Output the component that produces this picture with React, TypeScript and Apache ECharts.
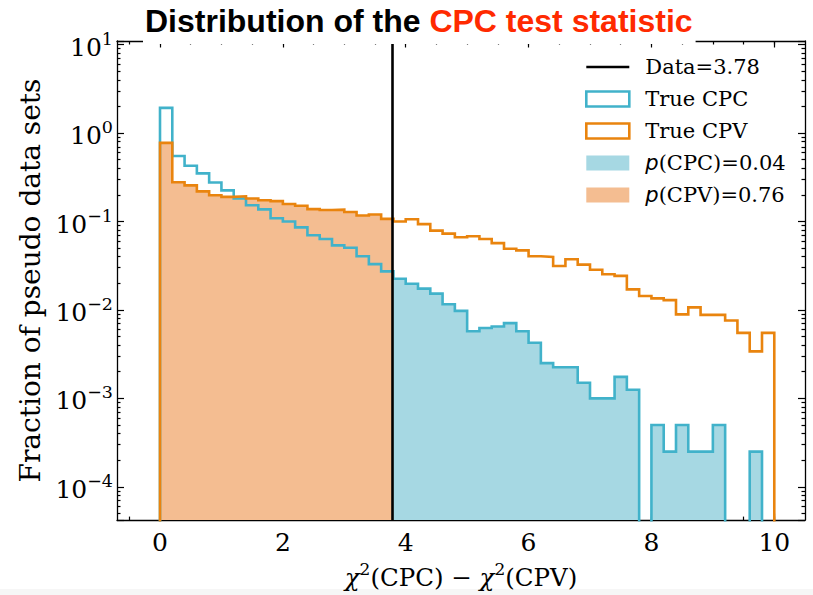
import React, { useEffect, useRef } from "react";
import * as echarts from "echarts";

// Histogram binning: 50 bins of width 0.2 covering 0..10
const BIN_START = 0;
const BIN_WIDTH = 0.2;
const BIN_END = 10;

// Observed value of the test statistic and the resulting p-values
const DATA_VALUE = 3.78;
const P_CPC = 0.04;
const P_CPV = 0.76;

// Fraction of pseudo data sets per bin (density-normalised) generated under CPC
const trueCPC = [
  1.93, 0.551, 0.427, 0.35, 0.276, 0.225, 0.182, 0.153, 0.137, 0.109,
  0.1, 0.0858, 0.0699, 0.0635, 0.0537, 0.0505, 0.0405, 0.033, 0.0273, 0.0225,
  0.0198, 0.0174, 0.0153, 0.0116, 0.00975, 0.00575, 0.00625, 0.0065, 0.0071, 0.00575,
  0.00425, 0.0025, 0.00225, 0.00225, 0.0015, 0.001, 0.001, 0.00175, 0.00125, 0,
  0.0005, 0.00025, 0.0005, 0.00025, 0.00025, 0.0005, 0, 0, 0.00025, 0,
];

// Fraction of pseudo data sets per bin (density-normalised) generated under CPV
const trueCPV = [
  0.774, 0.278, 0.256, 0.219, 0.198, 0.19, 0.193, 0.182, 0.174, 0.17,
  0.158, 0.151, 0.138, 0.135, 0.136, 0.128, 0.117, 0.12, 0.107, 0.1,
  0.106, 0.0933, 0.0788, 0.073, 0.0664, 0.0681, 0.0635, 0.057, 0.0492, 0.0472,
  0.0405, 0.0398, 0.0314, 0.0375, 0.0325, 0.0285, 0.0253, 0.0243, 0.0171, 0.0144,
  0.0135, 0.0129, 0.0089, 0.0107, 0.0088, 0.0088, 0.0076, 0.0055, 0.0034, 0.0055,
];

// Tick positions
const xMajorTicks = [0, 2, 4, 6, 8, 10];
const xMinorTicks = [-0.5, 0, 0.5, 1, 1.5, 2, 2.5, 3, 3.5, 4, 4.5, 5, 5.5, 6, 6.5, 7, 7.5, 8, 8.5, 9, 9.5, 10];

// Axis ranges
const X_MIN = -0.7;
const X_MAX = 10.5;
const Y_MIN = 4.2e-5;
const Y_MAX = 11;
const LOG_MIN = Math.log10(Y_MIN);
const LOG_MAX = Math.log10(Y_MAX);
// empty bins are sent below the visible range of the log axis
const EMPTY_BIN = Y_MIN / 10;

// Colours
const CPC_LINE = "#41b2ca";
const CPV_LINE = "#e9840e";
const CPC_FILL = "#a6d8e3";
const CPV_FILL = "#f4bd91";
const TITLE_RED = "#ff2a00";

const SERIF = "'DejaVu Serif', serif";
const TITLE_FONT = "'Liberation Sans', Arial, sans-serif";

const NAME_DATA = `Data=${DATA_VALUE}`;
const NAME_CPC = "True CPC";
const NAME_CPV = "True CPV";
const NAME_P_CPC = `p(CPC)=${P_CPC.toFixed(2)}`;
const NAME_P_CPV = `p(CPV)=${P_CPV.toFixed(2)}`;

const edge = (i: number) => +(BIN_START + i * BIN_WIDTH).toFixed(6);

// Step outline of a histogram, clipped to [from, to], closed down to the floor
function stepOutline(values: number[], from: number, to: number): number[][] {
  const pts: number[][] = [];
  values.forEach((v, i) => {
    const x0 = Math.max(edge(i), from);
    const x1 = Math.min(edge(i + 1), to);
    if (x1 <= x0) return;
    const y = v > 0 ? v : EMPTY_BIN;
    pts.push([x0, y], [x1, y]);
  });
  return [[pts[0][0], EMPTY_BIN], ...pts, [pts[pts.length - 1][0], EMPTY_BIN]];
}

// Minor ticks of a log10 axis, expressed as exponents
function logMinorExponents(): number[] {
  const out: number[] = [];
  for (let e = Math.floor(LOG_MIN); e <= Math.ceil(LOG_MAX); e++) {
    for (let k = 2; k <= 9; k++) {
      const l = Math.log10(k) + e;
      if (l > LOG_MIN && l < LOG_MAX) out.push(l);
    }
  }
  return out;
}

const supLabel = (e: number) => `{b|10}{s|${e < 0 ? "\u2212" + -e : e}}`;

export default function App() {
  const ref = useRef<HTMLDivElement>(null);

  useEffect(() => {
    if (!ref.current) return;
    const chart = echarts.init(ref.current, undefined, { renderer: "svg" });

    const tickLine = { color: "#000", width: 1.2 };
    const spine = { show: true, onZero: false, lineStyle: { color: "#000", width: 1.3 } };
    const noLine = { show: false, onZero: false };
    const minorLog = logMinorExponents();

    const option: any = {
      animation: false,
      backgroundColor: "#fff",
      title: {
        text: "{k|Distribution of the }{r|CPC test statistic}",
        left: 143,
        top: 0,
        padding: [4, 3, 7, 2],
        backgroundColor: "#fff",
        textStyle: {
          fontFamily: TITLE_FONT,
          fontWeight: "bold",
          fontSize: 32,
          rich: {
            k: { color: "#000", fontFamily: TITLE_FONT, fontWeight: "bold", fontSize: 32, lineHeight: 34 },
            r: { color: TITLE_RED, fontFamily: TITLE_FONT, fontWeight: "bold", fontSize: 32, lineHeight: 34 },
          },
        },
      },
      grid: { left: 117, right: 8, top: 41, bottom: 66, containLabel: false },
      legend: {
        orient: "vertical",
        left: 585,
        top: 56,
        itemWidth: 43,
        itemHeight: 15,
        itemGap: 10,
        selectedMode: false,
        padding: 0,
        data: [
          { name: NAME_DATA, icon: "path://M0,0L43,0L43,2.6L0,2.6Z", itemStyle: { color: "#000", borderWidth: 0 } },
          { name: NAME_CPC, icon: "rect", itemStyle: { color: "#fff", borderColor: CPC_LINE, borderWidth: 2.6 } },
          { name: NAME_CPV, icon: "rect", itemStyle: { color: "#fff", borderColor: CPV_LINE, borderWidth: 2.6 } },
          { name: NAME_P_CPC, icon: "rect", itemStyle: { color: CPC_FILL, borderWidth: 0 } },
          { name: NAME_P_CPV, icon: "rect", itemStyle: { color: CPV_FILL, borderWidth: 0 } },
        ],
        formatter: (name: string) => (name.startsWith("p(") ? `{it|p}{rm|${name.slice(1)}}` : name),
        textStyle: {
          fontFamily: SERIF,
          fontSize: 21,
          lineHeight: 22,
          color: "#000",
          padding: [0, 0, 0, 11],
          rich: {
            it: { fontFamily: "'DejaVu Sans', sans-serif", fontStyle: "italic", fontSize: 21, lineHeight: 22, color: "#000" },
            rm: { fontFamily: SERIF, fontSize: 21, lineHeight: 22, color: "#000" },
          },
        },
      },
      xAxis: [
        {
          type: "value",
          position: "bottom",
          min: X_MIN,
          max: X_MAX,
          axisLine: spine,
          splitLine: { show: false },
          axisTick: { show: true, inside: true, length: 6.5, lineStyle: tickLine, customValues: xMajorTicks },
          axisLabel: {
            show: true,
            customValues: xMajorTicks,
            margin: 9,
            fontFamily: SERIF,
            fontSize: 25,
            lineHeight: 26,
            color: "#000",
          },
          name: "{t|\u03c7}{s|2}{u|(CPC) \u2212 }{t|\u03c7}{s|2}{u|(CPV)}",
          nameLocation: "middle",
          nameGap: 33,
          nameTextStyle: {
            fontFamily: SERIF,
            fontSize: 24.5,
            color: "#000",
            rich: {
              t: { fontFamily: SERIF, fontStyle: "italic", fontSize: 24.5, lineHeight: 30, verticalAlign: "bottom", color: "#000" },
              s: { fontFamily: SERIF, fontSize: 17, lineHeight: 17, verticalAlign: "top", color: "#000" },
              u: { fontFamily: SERIF, fontSize: 24.5, lineHeight: 30, verticalAlign: "bottom", color: "#000" },
            },
          },
        },
        {
          type: "value",
          position: "bottom",
          min: X_MIN,
          max: X_MAX,
          axisLine: noLine,
          splitLine: { show: false },
          axisTick: { show: true, inside: true, length: 3.5, lineStyle: tickLine, customValues: xMinorTicks },
          axisLabel: { show: false },
        },
        {
          type: "value",
          position: "top",
          min: X_MIN,
          max: X_MAX,
          axisLine: spine,
          splitLine: { show: false },
          axisTick: { show: true, inside: true, length: 6.5, lineStyle: tickLine, customValues: xMajorTicks },
          axisLabel: { show: false },
        },
        {
          type: "value",
          position: "top",
          min: X_MIN,
          max: X_MAX,
          axisLine: noLine,
          splitLine: { show: false },
          axisTick: { show: true, inside: true, length: 3.5, lineStyle: tickLine, customValues: xMinorTicks },
          axisLabel: { show: false },
        },
      ],
      yAxis: [
        {
          type: "log",
          logBase: 10,
          position: "left",
          min: Y_MIN,
          max: Y_MAX,
          axisLine: spine,
          splitLine: { show: false },
          axisTick: { show: true, inside: true, length: 7, lineStyle: tickLine },
          axisLabel: {
            show: true,
            margin: 4,
            color: "#000",
            formatter: (v: number) => {
              const l = Math.log10(v);
              const e = Math.round(l);
              return Math.abs(l - e) < 1e-6 ? supLabel(e) : "";
            },
            rich: {
              b: { fontFamily: SERIF, fontSize: 25, lineHeight: 30, verticalAlign: "bottom", color: "#000" },
              s: { fontFamily: SERIF, fontSize: 17.5, lineHeight: 17, verticalAlign: "top", color: "#000" },
            },
          },
          name: "Fraction of pseudo data sets",
          nameLocation: "middle",
          nameRotate: 90,
          nameGap: 64,
          nameTextStyle: { fontFamily: SERIF, fontSize: 28, color: "#000" },
        },
        {
          type: "value",
          position: "left",
          min: LOG_MIN,
          max: LOG_MAX,
          axisLine: noLine,
          splitLine: { show: false },
          axisTick: { show: true, inside: true, length: 3.5, lineStyle: tickLine, customValues: minorLog },
          axisLabel: { show: false },
        },
        {
          type: "log",
          logBase: 10,
          position: "right",
          min: Y_MIN,
          max: Y_MAX,
          axisLine: spine,
          splitLine: { show: false },
          axisTick: { show: true, inside: true, length: 7, lineStyle: tickLine },
          axisLabel: { show: false },
        },
        {
          type: "value",
          position: "right",
          min: LOG_MIN,
          max: LOG_MAX,
          axisLine: noLine,
          splitLine: { show: false },
          axisTick: { show: true, inside: true, length: 3.5, lineStyle: tickLine, customValues: minorLog },
          axisLabel: { show: false },
        },
      ],
      graphic: [
        { type: "rect", left: 0, top: 589, shape: { width: 813, height: 6 }, style: { fill: "#f6f6f6" }, silent: true },
      ],
      series: [
        {
          name: NAME_P_CPC,
          type: "line",
          xAxisIndex: 0,
          yAxisIndex: 0,
          data: stepOutline(trueCPC, DATA_VALUE, BIN_END),
          symbol: "none",
          silent: true,
          z: 1,
          itemStyle: { color: CPC_FILL },
          lineStyle: { width: 0, color: CPC_FILL },
          areaStyle: { color: CPC_FILL, opacity: 1, origin: "start" },
        },
        {
          name: NAME_P_CPV,
          type: "line",
          xAxisIndex: 0,
          yAxisIndex: 0,
          data: stepOutline(trueCPV, BIN_START, DATA_VALUE),
          symbol: "none",
          silent: true,
          z: 1,
          itemStyle: { color: CPV_FILL },
          lineStyle: { width: 0, color: CPV_FILL },
          areaStyle: { color: CPV_FILL, opacity: 1, origin: "start" },
        },
        {
          name: NAME_CPC,
          type: "line",
          xAxisIndex: 0,
          yAxisIndex: 0,
          data: stepOutline(trueCPC, BIN_START, BIN_END),
          symbol: "none",
          silent: true,
          z: 3,
          itemStyle: { color: CPC_LINE },
          lineStyle: { width: 2.6, color: CPC_LINE, join: "miter", cap: "butt" },
        },
        {
          name: NAME_CPV,
          type: "line",
          xAxisIndex: 0,
          yAxisIndex: 0,
          data: stepOutline(trueCPV, BIN_START, BIN_END),
          symbol: "none",
          silent: true,
          z: 4,
          itemStyle: { color: CPV_LINE },
          lineStyle: { width: 2.6, color: CPV_LINE, join: "miter", cap: "butt" },
        },
        {
          name: NAME_DATA,
          type: "line",
          xAxisIndex: 0,
          yAxisIndex: 0,
          data: [],
          symbol: "none",
          z: 5,
          itemStyle: { color: "#000" },
          lineStyle: { width: 2.6, color: "#000" },
          markLine: {
            silent: true,
            symbol: ["none", "none"],
            label: { show: false },
            lineStyle: { color: "#000", width: 2.6, type: "solid" },
            emphasis: { disabled: true },
            data: [{ xAxis: DATA_VALUE }],
          },
        },
      ],
    };

    chart.setOption(option);
    return () => chart.dispose();
  }, []);

  return (
    <div
      ref={ref}
      style={{ position: "fixed", left: 0, top: 0, width: 813, height: 595, background: "#fff" }}
    />
  );
}
